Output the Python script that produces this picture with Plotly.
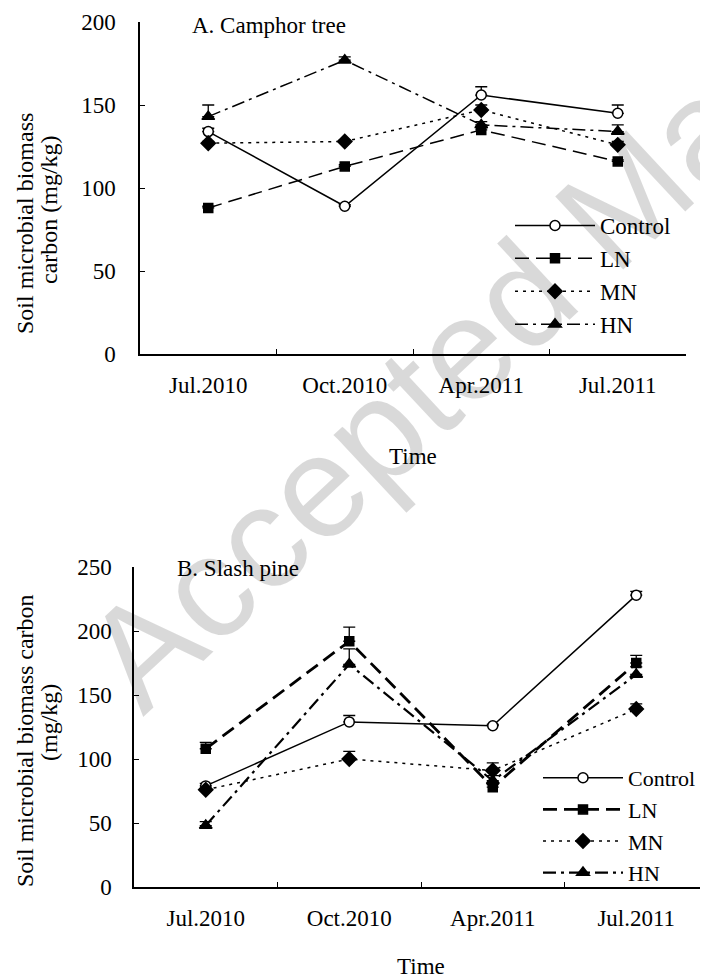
import plotly.graph_objects as go

# ---------------- data ----------------
categories = ["Jul.2010", "Oct.2010", "Apr.2011", "Jul.2011"]
series_names = ["Control", "LN", "MN", "HN"]

# Panel A: Camphor tree
a_control = [134, 89, 156, 145]
a_control_err = [2, 1, 5, 5]
a_ln = [88, 113, 135, 116]
a_ln_err = [1, 1, 2, 1]
a_mn = [127, 128, 147, 126]
a_mn_err = [1, 1, 3, 2]
a_hn = [143, 177, 138, 134]
a_hn_err = [7, 2, 2, 4]

# Panel B: Slash pine
b_control = [79, 129, 126, 228]
b_control_err = [2, 5, 1, 3]
b_ln = [108, 192, 78, 175]
b_ln_err = [5, 11, 2, 6]
b_mn = [76, 100, 91, 139]
b_mn_err = [1, 6, 6, 4]
b_hn = [48, 174, 83, 166]
b_hn_err = [3, 12, 4, 6]

y_ticks_a = [0, 50, 100, 150, 200]
y_ticks_b = [0, 50, 100, 150, 200, 250]

# ---------------- layout helpers (page pixel -> paper fraction) ----------------
OFF = 8           # default body margin of the html page
W, H = 700, 971   # figure size so that figure + margin fills the 708x979 window
FONT = "Liberation Serif"
FS = 23


def px(x):
    return (x - OFF) / W


def py(y):
    return 1 - (y - OFF) / H


styles_a = {
    "Control": dict(dash="solid", width=1.5, symbol="circle", size=10),
    "LN": dict(dash="14px,7px", width=1.5, symbol="square", size=9),
    "MN": dict(dash="3px,5px", width=1.5, symbol="diamond", size=11),
    "HN": dict(dash="13px,5px,3px,5px", width=1.5, symbol="triangle-up", size=11),
}
styles_b = {
    "Control": dict(dash="solid", width=1.5, symbol="circle", size=10),
    "LN": dict(dash="14px,7px", width=2.8, symbol="square", size=9),
    "MN": dict(dash="3px,5px", width=1.5, symbol="diamond", size=11),
    "HN": dict(dash="13px,5px,3px,5px", width=2.2, symbol="triangle-up", size=11),
}

fig = go.Figure()


def add_panel(values, errs, styles, xa, ya, legend):
    for name, v, e in zip(series_names, values, errs):
        st = styles[name]
        fill = "white" if name == "Control" else "black"
        fig.add_trace(go.Scatter(
            x=categories, y=v, name=name, mode="lines+markers",
            xaxis=xa, yaxis=ya, legend=legend,
            line=dict(color="black", width=st["width"], dash=st["dash"]),
            marker=dict(symbol=st["symbol"], size=st["size"], color=fill,
                        line=dict(color="black", width=1.5)),
            error_y=dict(type="data", array=e, arrayminus=[0] * len(e), symmetric=False,
                         color="black", thickness=1.3, width=6),
        ))


add_panel([a_control, a_ln, a_mn, a_hn], [a_control_err, a_ln_err, a_mn_err, a_hn_err],
          styles_a, "x", "y", "legend")
add_panel([b_control, b_ln, b_mn, b_hn], [b_control_err, b_ln_err, b_mn_err, b_hn_err],
          styles_b, "x2", "y2", "legend2")

axis_common = dict(showline=True, linecolor="black", linewidth=1.5, ticks="inside",
                   tickcolor="black", ticklen=5, tickwidth=1.3, showgrid=False, zeroline=False,
                   tickfont=dict(family=FONT, size=FS, color="black"))

fig.update_layout(
    width=W, height=H, margin=dict(l=0, r=0, t=0, b=0, autoexpand=False),
    paper_bgcolor="white", plot_bgcolor="white",
    font=dict(family=FONT, size=FS, color="black"),
    xaxis=dict(domain=[px(140), px(686)], anchor="y", type="category", range=[-0.5, 3.5],
               tickson="boundaries", ticklabelstandoff=10, **axis_common),
    yaxis=dict(domain=[py(354), py(22)], anchor="x", range=[0, 200], tickvals=y_ticks_a,
               ticklabelstandoff=18, **axis_common),
    xaxis2=dict(domain=[px(134), 1.0], anchor="y2", type="category", range=[-0.5, 3.5],
                tickson="boundaries", ticklabelstandoff=10, **axis_common),
    yaxis2=dict(domain=[py(887), py(567)], anchor="x2", range=[0, 250], tickvals=y_ticks_b,
                ticklabelstandoff=16, **axis_common),
    showlegend=True,
    legend=dict(x=px(510), y=py(204), xanchor="left", yanchor="top", bgcolor="rgba(0,0,0,0)",
                font=dict(family=FONT, size=FS), itemwidth=80, tracegroupgap=0),
    legend2=dict(x=px(538), y=py(757), xanchor="left", yanchor="top", bgcolor="rgba(0,0,0,0)",
                 font=dict(family=FONT, size=22), itemwidth=80, tracegroupgap=0),
)

annos = [
    dict(text="A. Camphor tree", x=px(190), y=py(26), xanchor="left", yanchor="middle"),
    dict(text="B. Slash pine", x=px(175), y=py(568), xanchor="left", yanchor="middle"),
    dict(text="Time", x=px(413), y=py(456), xanchor="center", yanchor="middle"),
    dict(text="Time", x=px(421), y=py(966), xanchor="center", yanchor="middle"),
]
for a in annos:
    fig.add_annotation(xref="paper", yref="paper", showarrow=False,
                       font=dict(family=FONT, size=FS, color="black"), **a)

ytitles = [
    dict(text="Soil microbial biomass", x=px(25), y=py(224)),
    dict(text="carbon (mg/kg)", x=px(49), y=py(210)),
    dict(text="Soil microbial biomass carbon", x=px(25), y=py(741)),
    dict(text="(mg/kg)", x=px(49), y=py(723)),
]
for a in ytitles:
    fig.add_annotation(xref="paper", yref="paper", showarrow=False, textangle=-90,
                       xanchor="center", yanchor="middle", borderpad=0,
                       font=dict(family=FONT, size=24, color="black"), **a)

# watermark
fig.add_annotation(xref="paper", yref="paper", showarrow=False, text="Accepted Manuscript",
                   x=px(604), y=py(219), xanchor="center", yanchor="middle", textangle=-43,
                   font=dict(family="Liberation Sans", size=145, color="rgba(0,0,0,0.15)"))

fig.write_html("out.html")
